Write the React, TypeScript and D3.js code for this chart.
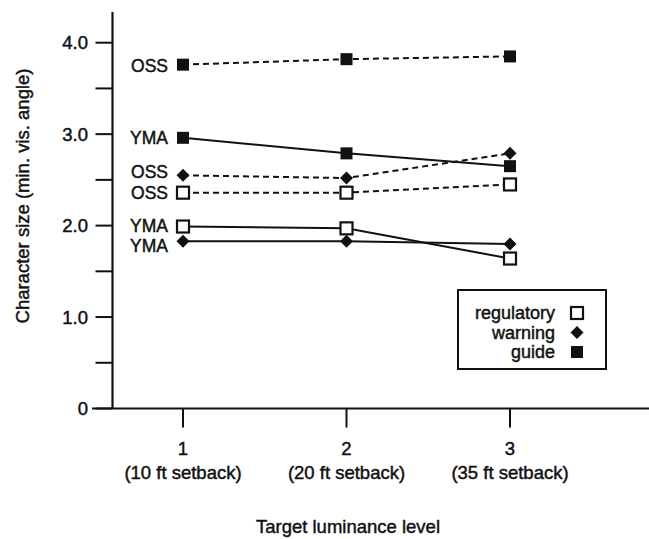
import React from "react";
import * as d3 from "d3";

const levels = [1, 2, 3];
const levelSetbacks = ["(10 ft setback)", "(20 ft setback)", "(35 ft setback)"];
const yTickValues = [0, 0.5, 1, 1.5, 2, 2.5, 3, 3.5, 4];
const yTickLabels: Record<string, string> = { "0": "0", "1": "1.0", "2": "2.0", "3": "3.0", "4": "4.0" };

const ossGuide = [3.76, 3.82, 3.85];
const ymaGuide = [2.96, 2.79, 2.65];
const ossWarning = [2.55, 2.52, 2.79];
const ossRegulatory = [2.36, 2.36, 2.45];
const ymaRegulatory = [1.99, 1.97, 1.64];
const ymaWarning = [1.83, 1.83, 1.8];

const legendNames = ["regulatory", "warning", "guide"];

type Series = { method: string; sign: string; values: number[]; labelDy: number };
const series: Series[] = [
  { method: "OSS", sign: "guide", values: ossGuide, labelDy: 1 },
  { method: "YMA", sign: "guide", values: ymaGuide, labelDy: 0 },
  { method: "OSS", sign: "warning", values: ossWarning, labelDy: -3 },
  { method: "OSS", sign: "regulatory", values: ossRegulatory, labelDy: 0 },
  { method: "YMA", sign: "regulatory", values: ymaRegulatory, labelDy: -1 },
  { method: "YMA", sign: "warning", values: ymaWarning, labelDy: 5 },
];

const FONT = "'Liberation Sans', Arial, Helvetica, sans-serif";
const INK = "#111";
const TXT = { fill: INK, stroke: INK, strokeWidth: 0.45 };

function Marker({ sign, x, y }: { sign: string; x: number; y: number }) {
  if (sign === "guide") return <rect x={x - 6} y={y - 6} width={12} height={12} fill={INK} />;
  if (sign === "regulatory")
    return <rect x={x - 6} y={y - 6} width={12} height={12} fill="#fff" stroke={INK} strokeWidth={2.2} />;
  const s = 6.5;
  return <path d={`M${x},${y - s}L${x + s},${y}L${x},${y + s}L${x - s},${y}Z`} fill={INK} />;
}

export default function App() {
  const W = 649, H = 539;
  const x = d3.scaleLinear().domain([1, 3]).range([183, 510]);
  const y = d3.scaleLinear().domain([0, 4]).range([408.5, 42.7]);
  const axisX = 112.5;
  const line = d3.line<number>().x((_, i) => x(levels[i])).y((v) => y(v));

  return (
    <svg width={W} height={H} style={{ position: "absolute", left: 0, top: 0, background: "#fff" }} fontFamily={FONT}>
      <rect width={W} height={H} fill="#fff" />
      {/* y axis */}
      <line x1={axisX} x2={axisX} y1={12} y2={y(0)} stroke={INK} strokeWidth={2.2} />
      {yTickValues.map((t) => (
        <g key={t}>
          <line x1={axisX - 17} x2={axisX} y1={y(t)} y2={y(t)} stroke={INK} strokeWidth={2} />
          {yTickLabels[String(t)] && (
            <text x={88} y={y(t)} textAnchor="end" dominantBaseline="central" fontSize={18.5} {...TXT}>
              {yTickLabels[String(t)]}
            </text>
          )}
        </g>
      ))}
      {/* x axis */}
      <line x1={92} x2={W} y1={y(0)} y2={y(0)} stroke={INK} strokeWidth={2.2} />
      {levels.map((l, i) => (
        <g key={l}>
          <line x1={x(l)} x2={x(l)} y1={y(0)} y2={y(0) + 19} stroke={INK} strokeWidth={2} />
          <text x={x(l)} y={448} textAnchor="middle" dominantBaseline="central" fontSize={18.5} {...TXT}>
            {l}
          </text>
          <text x={x(l)} y={472} textAnchor="middle" dominantBaseline="central" fontSize={18.5} {...TXT}>
            {levelSetbacks[i]}
          </text>
        </g>
      ))}
      <text x={348} y={526} textAnchor="middle" dominantBaseline="central" fontSize={18.5} {...TXT}>
        Target luminance level
      </text>
      <text
        transform={`translate(22,196) rotate(-90)`}
        textAnchor="middle"
        dominantBaseline="central"
        fontSize={18.5}
        {...TXT}
      >
        Character size (min. vis. angle)
      </text>
      {/* lines */}
      {series.map((s, i) => (
        <path
          key={"l" + i}
          d={line(s.values) || ""}
          fill="none"
          stroke={INK}
          strokeWidth={2}
          strokeDasharray={s.method === "OSS" ? "6,4" : undefined}
        />
      ))}
      {/* markers */}
      {series.map((s, i) =>
        s.values.map((v, j) => <Marker key={`m${i}-${j}`} sign={s.sign} x={x(levels[j])} y={y(v)} />)
      )}
      {/* series labels */}
      {series.map((s, i) => (
        <text
          key={"t" + i}
          x={168}
          y={y(s.values[0]) + s.labelDy}
          textAnchor="end"
          dominantBaseline="central"
          fontSize={17.5}
          {...TXT}
        >
          {s.method}
        </text>
      ))}
      {/* legend */}
      <rect x={458} y={290} width={148} height={79} fill="#fff" stroke={INK} strokeWidth={2} />
      {legendNames.map((n, i) => (
        <g key={n}>
          <text x={555} y={313 + i * 19.5} textAnchor="end" dominantBaseline="central" fontSize={18} {...TXT}>
            {n}
          </text>
          <Marker sign={n} x={577} y={313 + i * 19.5} />
        </g>
      ))}
    </svg>
  );
}
